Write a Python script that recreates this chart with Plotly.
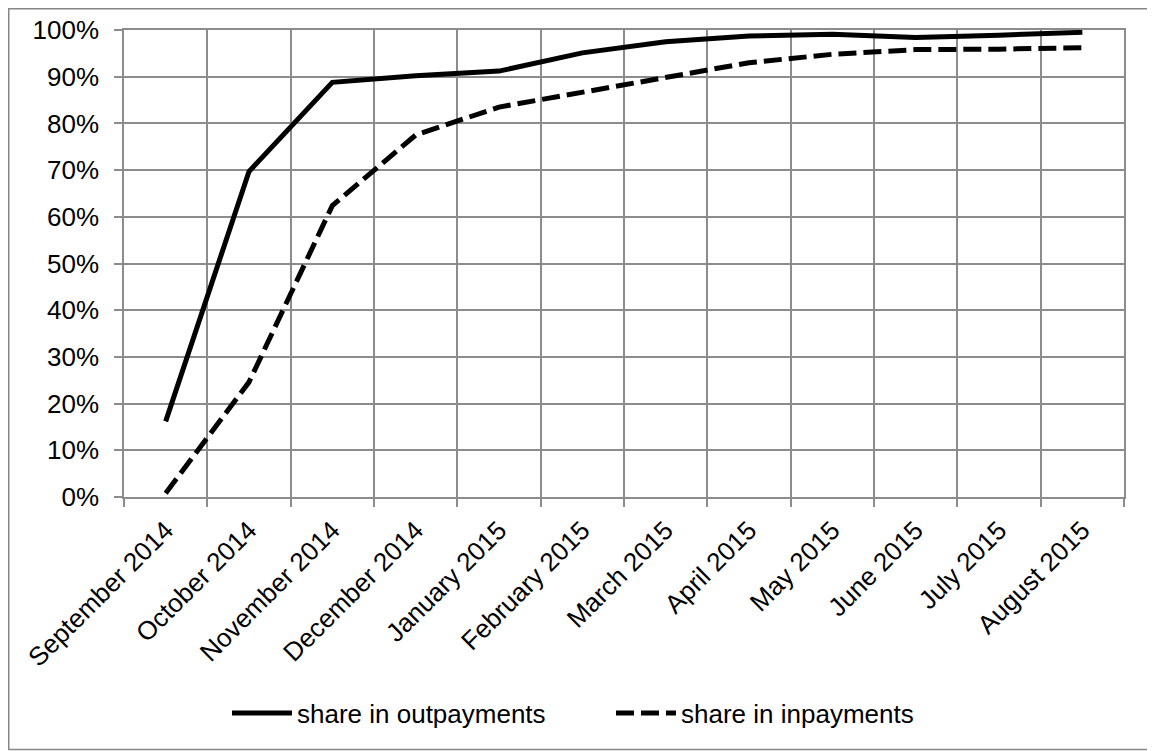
import plotly.graph_objects as go

months = ["September 2014", "October 2014", "November 2014", "December 2014",
          "January 2015", "February 2015", "March 2015", "April 2015",
          "May 2015", "June 2015", "July 2015", "August 2015"]
share_out = [0.162, 0.697, 0.888, 0.902, 0.912, 0.951, 0.975, 0.987,
             0.991, 0.984, 0.989, 0.995]
share_in = [0.008, 0.246, 0.624, 0.775, 0.835, 0.867, 0.900, 0.930,
            0.948, 0.958, 0.959, 0.962]
y_ticks = [0, 0.1, 0.2, 0.3, 0.4, 0.5, 0.6, 0.7, 0.8, 0.9, 1.0]

# page body has an 8px margin; size the figure so it fills the window
OFF = 8
W, H = 1155 - OFF, 751 - OFF
L, R, T, B = 124 - OFF, 31, 30 - OFF, 254
grid = "#8c8c8c"
font = "Liberation Sans, Arial, sans-serif"
FS = 26

fig = go.Figure()
fig.add_trace(go.Scatter(x=months, y=share_out, mode="lines",
                         name="share in outpayments",
                         line=dict(color="black", width=5)))
fig.add_trace(go.Scatter(x=months, y=share_in, mode="lines",
                         name="share in inpayments",
                         line=dict(color="black", width=5, dash="18px,7px")))

pw, ph = W - L - R, H - T - B
def px(x):
    return (x - OFF - L) / pw
def py(y):
    return (H - B - (y - OFF)) / ph

fig.add_shape(type="rect", xref="paper", yref="paper",
              x0=px(8.75), x1=px(1153), y0=py(749.5), y1=py(8.75),
              line=dict(color="#868686", width=1.5), layer="below")

fig.update_layout(
    width=W, height=H,
    margin=dict(l=L, r=R, t=T, b=B, autoexpand=False),
    paper_bgcolor="white", plot_bgcolor="white",
    font=dict(family=font, size=FS, color="black"),
    showlegend=True,
    legend=dict(orientation="h", x=px(611), xanchor="center",
                y=py(713), yanchor="middle",
                font=dict(size=FS), itemwidth=60,
                entrywidth=309, entrywidthmode="pixels",
                bgcolor="rgba(0,0,0,0)"),
    xaxis=dict(type="category", range=[-0.5, 11.5],
               tickson="boundaries", ticks="outside", ticklen=8,
               tickcolor=grid, tickwidth=1.5,
               showgrid=True, gridcolor=grid, gridwidth=1.5,
               showline=True, linecolor=grid, linewidth=1.5, mirror=True,
               tickangle=-45, tickfont=dict(size=FS), zeroline=False,
               ticklabelstandoff=6),
    yaxis=dict(range=[0, 1], tickvals=y_ticks, tickformat=".0%",
               ticks="outside", ticklen=8, tickcolor=grid, tickwidth=1.5,
               showgrid=True, gridcolor=grid, gridwidth=1.5,
               showline=True, linecolor=grid, linewidth=1.5, mirror=True,
               tickfont=dict(size=FS), zeroline=False,
               ticklabelstandoff=10),
)

fig.write_html("out.html")
